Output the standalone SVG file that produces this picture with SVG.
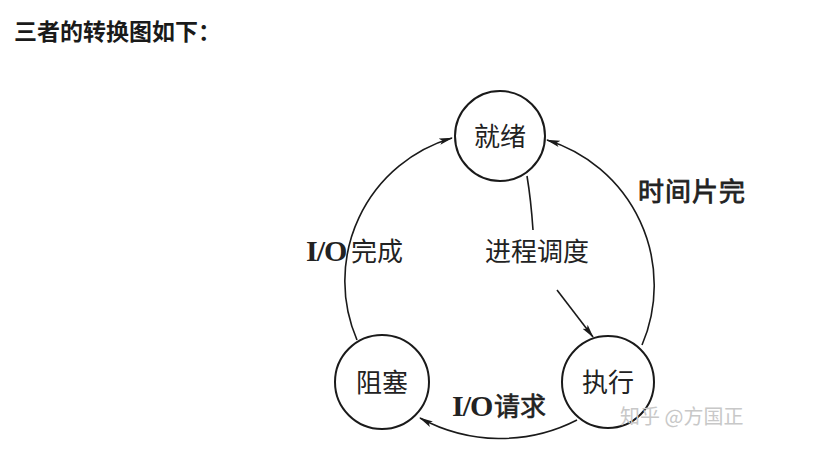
<svg xmlns="http://www.w3.org/2000/svg" width="827" height="464" viewBox="0 0 827 464">
<style>
.node{fill:#fff;stroke:#1a1a1a;stroke-width:2}
.t{font-family:"Noto Sans CJK SC","Noto Sans",sans-serif;fill:#222;font-size:26px}
.io{font-family:"Liberation Serif",serif;font-weight:bold;fill:#222;font-size:30px;letter-spacing:-1px}
.edge{fill:none;stroke:#1a1a1a;stroke-width:1.6}
</style>
<defs>
<marker id="arr" markerWidth="14" markerHeight="8" refX="13" refY="4" orient="auto" markerUnits="userSpaceOnUse">
<path d="M0,0.8 L14,4 L0,7.2 L3,4 Z" fill="#1a1a1a"/>
</marker>
</defs>
<rect width="827" height="464" fill="#fff"/>
<text x="14" y="40" font-family="'Noto Sans CJK SC',sans-serif" font-weight="bold" font-size="23" fill="#1a1a1a">三者的转换图如下：</text>
<g id="connectors">
<path class="edge" d="M357,340 A149,149 0 0 1 452,138" marker-end="url(#arr)"/>
<path class="edge" d="M642,345 A152,152 0 0 0 547,140" marker-end="url(#arr)"/>
<path class="edge" d="M577,420 A168,168 0 0 1 420,418" marker-end="url(#arr)"/>
<path class="edge" d="M527,176 Q531,200 533,230"/>
<path class="edge" d="M557,290 L593,337" marker-end="url(#arr)"/>
</g>
<g id="ready">
<circle class="node" cx="500" cy="136" r="45"/>
<text class="t" x="500" y="146" text-anchor="middle">就绪</text>
</g>
<g id="blocked">
<circle class="node" cx="382" cy="382" r="47"/>
<text class="t" x="382" y="392" text-anchor="middle">阻塞</text>
</g>
<g id="running">
<circle class="node" cx="608" cy="382" r="46"/>
<text class="t" x="608" y="392" text-anchor="middle">执行</text>
</g>
<g id="labels">
<text class="t" x="638" y="201" font-size="28" stroke="#222" stroke-width="0.8" letter-spacing="1">时间片完</text>
<text class="t" x="485" y="261" font-size="27">进程调度</text>
<text x="306" y="261"><tspan class="io">I/O</tspan><tspan class="t" x="351">完成</tspan></text>
<text x="452" y="416"><tspan class="io">I/O</tspan><tspan class="t" x="494" stroke="#222" stroke-width="0.6">请求</tspan></text>
<text x="620" y="424" font-family="'Noto Sans CJK SC',sans-serif" font-size="20" fill="#c8c8c8">知乎 @方国正</text>
</g>
</svg>
